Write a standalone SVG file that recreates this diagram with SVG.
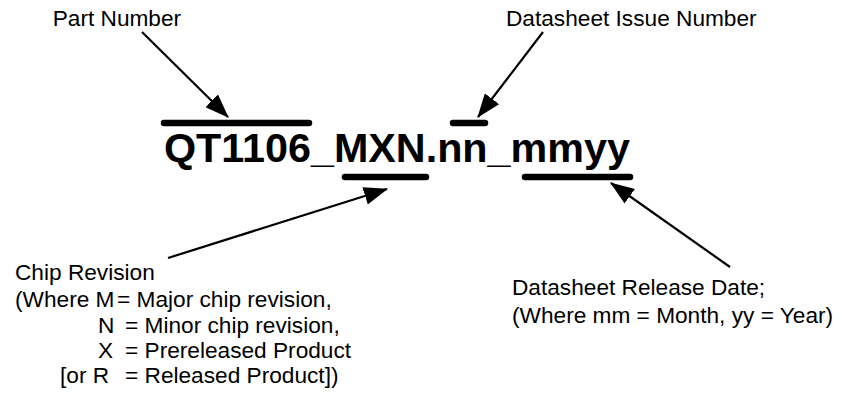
<svg xmlns="http://www.w3.org/2000/svg" width="842" height="398" viewBox="0 0 842 398">
<defs>
<marker id="ah" markerUnits="userSpaceOnUse" markerWidth="24" markerHeight="18" refX="23" refY="9" orient="auto">
<path d="M0,0 L24,9 L0,18 Z" fill="#000"/>
</marker>
<style>
.lbl{font-family:"Liberation Sans",Arial,sans-serif;font-size:22.67px;fill:#000}
.big{font-family:"Liberation Sans",Arial,sans-serif;font-size:41.3px;font-weight:bold;fill:#000}
.bar{stroke:#000;stroke-width:6.5;stroke-linecap:round;fill:none}
.arr{stroke:#000;stroke-width:2.2;fill:none;marker-end:url(#ah)}
</style>
</defs>
<rect width="842" height="398" fill="#fff"/>
<g id="code">
<text class="big" x="164" y="162">QT1106_MXN.nn_mmyy</text>
<line class="bar" x1="164" y1="123" x2="309" y2="123"/>
<line class="bar" x1="453" y1="123" x2="485" y2="123"/>
<line class="bar" x1="345" y1="177" x2="426" y2="177"/>
<line class="bar" x1="525" y1="177" x2="630" y2="177"/>
</g>
<g id="part-number">
<text class="lbl" x="52.7" y="26">Part Number</text>
</g>
<g id="issue-number">
<text class="lbl" x="506" y="26">Datasheet Issue Number</text>
</g>
<g id="chip-revision">
<text class="lbl" x="15" y="280">Chip Revision</text>
<text class="lbl" y="307"><tspan x="15">(Where M</tspan><tspan x="117">= Major chip revision,</tspan></text>
<text class="lbl" y="333"><tspan x="98">N</tspan><tspan x="125">= Minor chip revision,</tspan></text>
<text class="lbl" y="358"><tspan x="98">X</tspan><tspan x="125">= Prereleased Product</tspan></text>
<text class="lbl" y="383"><tspan x="60">[or R</tspan><tspan x="125">= Released Product])</tspan></text>
</g>
<g id="release-date">
<text class="lbl" x="512" y="295">Datasheet Release Date;</text>
<text class="lbl" x="512" y="323">(Where mm = Month, yy = Year)</text>
</g>
<g id="connectors">
<line class="arr" x1="142" y1="32" x2="228" y2="117"/>
<line class="arr" x1="543" y1="32" x2="478" y2="117"/>
<line class="arr" x1="168" y1="258" x2="387" y2="189"/>
<line class="arr" x1="730" y1="267" x2="611" y2="183"/>
</g>
</svg>
